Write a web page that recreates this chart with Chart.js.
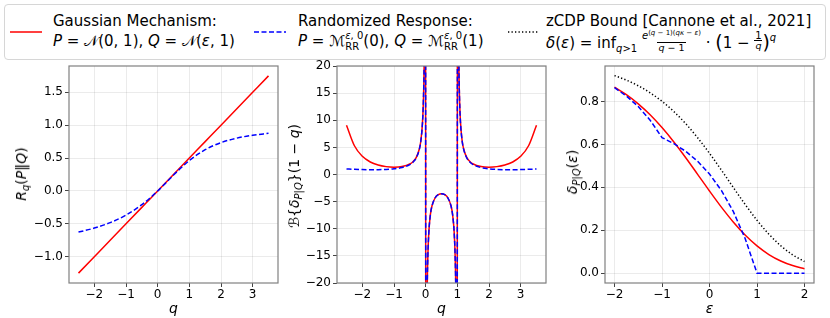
<!DOCTYPE html>
<html>
<head>
<meta charset="utf-8">
<script src="https://cdn.jsdelivr.net/npm/chart.js@4.4.1/dist/chart.umd.min.js"></script>
<style>
body { margin:0; width:830px; height:318px; position:relative; overflow:hidden; background:#fff; font-family:'DejaVu Sans', sans-serif; color:#000; }
canvas { position:absolute; }
#legendBox { position:absolute; left:4px; top:4px; width:820px; height:54px; border:1px solid #d6d6d6; border-radius:4px; }
.sample { position:absolute; }
.lt { position:absolute; font-size:15px; line-height:15px; white-space:nowrap; }
.sb { position:relative; font-size:10px; line-height:0; top:4px; }
.sp { position:relative; font-size:10px; line-height:0; top:-7px; }
.ss { display:inline-grid; font-size:10px; line-height:10px; vertical-align:baseline; }
.ss > span { grid-area:1 / 1; position:relative; }
.ss .up { top:-7px; }
.ss .dn { top:4px; }
.frac { display:inline-flex; flex-direction:column; align-items:center; vertical-align:baseline; position:relative; top:-9px; }
.frac .num { font-size:10px; line-height:9px; }
.frac .num .ex { position:relative; font-size:7px; top:-4px; }
.frac .den { font-size:9.5px; line-height:10px; border-top:1px solid #000; padding:0 1px; }
.big { font-size:19px; position:relative; top:1px; }
.ytitle { position:absolute; font-size:14px; line-height:14px; white-space:nowrap; transform:translate(-50%,-50%) rotate(-90deg); }
.ytitle .sb { font-size:10px; top:3px; }
</style>
</head>
<body>
<div id="legendBox"></div>
<svg class="sample" style="left:10px;top:28px" width="33" height="8"><line x1="0" y1="4" x2="32" y2="4" stroke="#ff0000" stroke-width="1.5"/></svg>
<svg class="sample" style="left:254px;top:28px" width="33" height="8"><line x1="0" y1="4" x2="32" y2="4" stroke="#0000ff" stroke-width="1.5" stroke-dasharray="5,2.5"/></svg>
<svg class="sample" style="left:508px;top:28px" width="31" height="8"><line x1="0" y1="4" x2="30" y2="4" stroke="#000" stroke-width="1.3" stroke-dasharray="1.3,2.2"/></svg>

<div class="lt" style="left:53px;top:14px">Gaussian Mechanism:</div>
<div class="lt" style="left:53px;top:34px"><i>P</i> = 𝒩(0, 1), <i>Q</i> = 𝒩(<i>ε</i>, 1)</div>
<div class="lt" style="left:298px;top:14px">Randomized Response:</div>
<div class="lt" style="left:298px;top:34px"><i>P</i> = ℳ<span class="ss"><span class="up"><i>ε</i>, 0</span><span class="dn">RR</span></span>(0), <i>Q</i> = ℳ<span class="ss"><span class="up"><i>ε</i>, 0</span><span class="dn">RR</span></span>(1)</div>
<div class="lt" style="left:546px;top:14px">zCDP Bound [Cannone et al., 2021]</div>
<div class="lt" style="left:546px;top:34px"><i>δ</i>(<i>ε</i>) = inf<span class="sb"><i>q</i>&gt;1</span> <span class="frac"><span class="num"><i>e</i><span class="ex">(<i>q</i> − 1)(<i>qκ</i> − <i>ε</i>)</span></span><span class="den"><i>q</i> − 1</span></span> · <span class="big">(</span>1 − <span class="frac"><span class="num">1</span><span class="den"><i>q</i></span></span><span class="big">)</span><span class="sp"><i>q</i></span></div>

<canvas id="panel1" width="257" height="266" style="left:28px;top:52px"></canvas>
<canvas id="panel2" width="253" height="266" style="left:300px;top:52px"></canvas>
<canvas id="panel3" width="253" height="266" style="left:568px;top:52px"></canvas>

<div class="ytitle" style="left:21px;top:174px"><i>R</i><span class="sb"><i>q</i></span>(<i>P</i>‖<i>Q</i>)</div>
<div class="ytitle" style="left:294px;top:176px">ℬ{<i>δ</i><span class="sb"><i>P</i>|<i>Q</i></span>}(1 − <i>q</i>)</div>
<div class="ytitle" style="left:572px;top:172px"><i>δ</i><span class="sb"><i>P</i>|<i>Q</i></span>(<i>ε</i>)</div>

<script>
// left panel: Renyi divergence R_q(P||Q)
const qRenyi = [-2.5, -2, -1.5, -1, -0.5, -0.25, 0, 0.25, 0.5, 0.75, 1, 1.5, 2, 2.5, 3, 3.5];
const renyiGauss = [-1.25, -1, -0.75, -0.5, -0.25, -0.125, 0, 0.125, 0.25, 0.375, 0.5, 0.75, 1, 1.25, 1.5, 1.75];
const renyiRR = [-0.626, -0.565, -0.482, -0.368, -0.209, -0.111, 0, 0.119, 0.241, 0.357, 0.462, 0.627, 0.735, 0.803, 0.847, 0.876];

// middle panel: B{delta}(1-q), poles at q=0 and q=1
const qB = [-2.5, -2.25, -2, -1.75, -1.5, -1.25, -1, -0.75, -0.5, -0.4, -0.3, -0.2, -0.15, -0.1, -0.07, -0.05, -0.03, -0.01,
  0.01, 0.03, 0.05, 0.07, 0.1, 0.15, 0.2, 0.3, 0.4, 0.5, 0.6, 0.7, 0.8, 0.85, 0.9, 0.93, 0.95, 0.97, 0.99,
  1.01, 1.03, 1.05, 1.07, 1.1, 1.15, 1.2, 1.3, 1.4, 1.5, 1.75, 2, 2.25, 2.5, 2.75, 3, 3.25, 3.5];
const bGauss = [9.079, 5.295, 3.348, 2.305, 1.739, 1.451, 1.359, 1.469, 1.940, 2.363, 3.116, 4.698, 6.319, 9.605, 13.861, 19.554, 32.866, 99.51,
  -100.51, -33.868, -20.559, -14.869, -10.622, -7.359, -5.770, -4.287, -3.696, -3.530, -3.696, -4.287, -5.770, -7.359, -10.622, -14.869, -20.559, -33.868, -100.51,
  99.51, 32.866, 19.554, 13.861, 9.605, 6.319, 4.698, 3.116, 2.363, 1.940, 1.469, 1.359, 1.451, 1.739, 2.305, 3.348, 5.295, 9.079];
const bRR = [1.020, 0.953, 0.906, 0.884, 0.890, 0.935, 1.043, 1.276, 1.825, 2.270, 3.041, 4.638, 6.266, 9.558, 13.816, 19.512, 32.825, 99.47,
  -100.55, -33.904, -20.592, -14.901, -10.652, -7.386, -5.794, -4.308, -3.713, -3.547, -3.713, -4.308, -5.794, -7.386, -10.652, -14.901, -20.592, -33.904, -100.55,
  99.47, 32.825, 19.512, 13.816, 9.558, 6.266, 4.638, 3.041, 2.270, 1.825, 1.276, 1.043, 0.935, 0.890, 0.884, 0.906, 0.953, 1.020];

// right panel: privacy profile delta(eps)
const epsVals = [-2, -1.75, -1.5, -1.25, -1, -0.75, -0.5, -0.25, 0, 0.25, 0.5, 0.75, 1, 1.25, 1.5, 1.75, 2];
const deltaGauss = [0.8675, 0.8324, 0.7895, 0.7384, 0.6788, 0.6115, 0.5381, 0.4608, 0.3829, 0.3077, 0.2384, 0.1776, 0.1269, 0.0868, 0.0567, 0.0353, 0.0209];
const deltaRR = [0.8647, 0.8262, 0.7769, 0.7135, 0.6321, 0.6041, 0.5680, 0.5217, 0.4622, 0.3858, 0.2878, 0.1619, 0, 0, 0, 0, 0];
const deltaZcdp = [0.9212, 0.9001, 0.8738, 0.8411, 0.8013, 0.7534, 0.6968, 0.6315, 0.5589, 0.4806, 0.3999, 0.3206, 0.2468, 0.1818, 0.1278, 0.0854, 0.0543];

const tickFont = { family: 'DejaVu Sans', size: 12 };
const gridColor = 'rgba(0,0,0,0.1)';

function pts(xs, ys) {
  return xs.map((x, i) => ({ x: x, y: ys[i] }));
}
function minus(s) {
  return s.replace('-', '\u2212');
}

const frameBox = {
  id: 'frameBox',
  afterDraw(chart) {
    const ctx = chart.ctx, a = chart.chartArea;
    ctx.save();
    ctx.strokeStyle = '#808080';
    ctx.lineWidth = 1.2;
    ctx.strokeRect(a.left, a.top, a.right - a.left, a.bottom - a.top);
    ctx.restore();
  }
};

function xAxis(min, max, title) {
  return {
    type: 'linear', min: min, max: max,
    ticks: { stepSize: 1, includeBounds: false, autoSkip: false, maxRotation: 0, color: '#000', font: tickFont, padding: 1,
      callback: v => minus(String(Math.round(v))) },
    grid: { color: gridColor, lineWidth: 0.8, tickLength: 4, tickColor: '#444', tickWidth: 1 },
    border: { display: false },
    title: { display: true, text: title, color: '#000', font: { family: 'DejaVu Sans', size: 14, style: 'italic' }, padding: { top: 0, bottom: 0 } },
    afterFit: s => { s.height = 35; }
  };
}
function yAxis(min, max, step, digits, width) {
  return {
    type: 'linear', min: min, max: max,
    ticks: { stepSize: step, includeBounds: false, autoSkip: false, color: '#000', font: tickFont, padding: 2,
      callback: v => minus(v.toFixed(digits)) },
    grid: { color: gridColor, lineWidth: 0.8, tickLength: 4, tickColor: '#444', tickWidth: 1 },
    border: { display: false },
    afterFit: s => { s.width = width; }
  };
}

function line(data, color, dash, order, smooth) {
  return {
    data: data, borderColor: color, borderWidth: 1.5, borderDash: dash, pointRadius: 0,
    fill: false, order: order, clip: 0,
    cubicInterpolationMode: smooth ? 'monotone' : 'default', tension: 0
  };
}

function makeChart(id, datasets, scales) {
  return new Chart(document.getElementById(id), {
    type: 'line',
    data: { datasets: datasets },
    options: {
      responsive: false, animation: false,
      layout: { padding: { top: 14, right: 7, left: 0, bottom: 0 } },
      plugins: { legend: { display: false }, tooltip: { enabled: false } },
      scales: scales
    },
    plugins: [frameBox]
  });
}

var chart1 = makeChart('panel1', [
  line(pts(qRenyi, renyiGauss), '#ff0000', [], 2, true),
  line(pts(qRenyi, renyiRR), '#0000ff', [5, 2.5], 1, true)
], { x: xAxis(-2.8, 3.8, 'q'), y: yAxis(-1.4, 1.9, 0.5, 1, 41) });

var chart2 = makeChart('panel2', [
  line(pts(qB, bGauss), '#ff0000', [], 2, true),
  line(pts(qB, bRR), '#0000ff', [5, 2.5], 1, true)
], { x: xAxis(-2.8, 3.8, 'q'), y: yAxis(-20, 20, 5, 0, 37) });

var chart3 = makeChart('panel3', [
  line(pts(epsVals, deltaGauss), '#ff0000', [], 3, true),
  line(pts(epsVals, deltaRR), '#0000ff', [5, 2.5], 2, false),
  line(pts(epsVals, deltaZcdp), '#000000', [1.3, 2.2], 1, true)
], { x: xAxis(-2.2, 2.2, 'ε'), y: yAxis(-0.046, 0.966, 0.2, 1, 37) });
</script>
</body>
</html>
